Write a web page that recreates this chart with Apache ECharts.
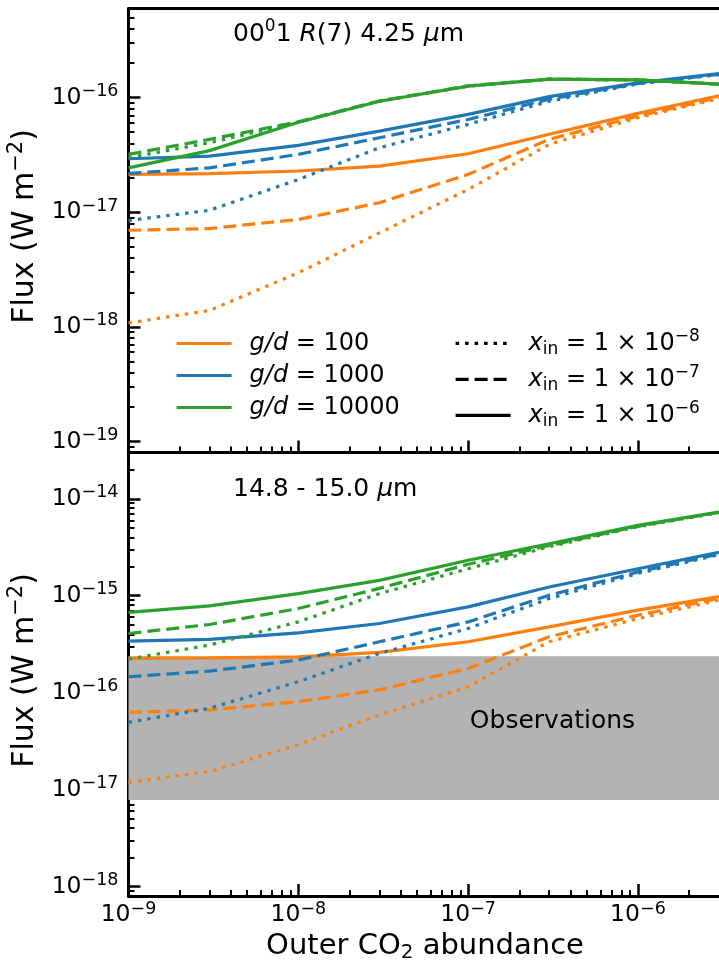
<!DOCTYPE html>
<html>
<head>
<meta charset="utf-8">
<script src="https://cdn.jsdelivr.net/npm/echarts@6/dist/echarts.min.js"></script>
<style>
    html, body { margin: 0; padding: 0; background: #fff; }
    #chart { width: 719px; height: 963px; }
</style>
</head>
<body>
<div id="chart"></div>
<script>
// outer CO2 abundance (x values, shared by both panels)
var abundance = [1e-9, 3e-9, 1e-8, 3e-8, 1e-7, 3e-7, 1e-6, 3e-6];

// top panel: 00^01 R(7) 4.25 um line flux (W m^-2)
var r7_gd100_in6 = [2.14e-17, 2.17e-17, 2.29e-17, 2.53e-17, 3.24e-17, 4.8e-17, 7.3e-17, 1.04e-16];
var r7_gd100_in7 = [6.96e-18, 7.2e-18, 8.65e-18, 1.21e-17, 2.14e-17, 4.33e-17, 6.9e-17, 1.0e-16];
var r7_gd100_in8 = [1.08e-18, 1.39e-18, 2.96e-18, 6.6e-18, 1.58e-17, 3.91e-17, 6.7e-17, 9.8e-17];
var r7_gd1000_in6 = [2.93e-17, 3.09e-17, 3.83e-17, 5.1e-17, 7.15e-17, 1.02e-16, 1.35e-16, 1.62e-16];
var r7_gd1000_in7 = [2.18e-17, 2.44e-17, 3.2e-17, 4.47e-17, 6.45e-17, 9.7e-17, 1.33e-16, 1.6e-16];
var r7_gd1000_in8 = [8.47e-18, 1.04e-17, 1.93e-17, 3.66e-17, 5.85e-17, 9.3e-17, 1.32e-16, 1.59e-16];
var r7_gd10000_in6 = [2.44e-17, 3.45e-17, 6.1e-17, 9.3e-17, 1.26e-16, 1.45e-16, 1.43e-16, 1.31e-16];
var r7_gd10000_in7 = [3.2e-17, 4.33e-17, 6.15e-17, 9.35e-17, 1.27e-16, 1.45e-16, 1.43e-16, 1.31e-16];
var r7_gd10000_in8 = [2.99e-17, 4.04e-17, 6.1e-17, 9.3e-17, 1.26e-16, 1.45e-16, 1.43e-16, 1.31e-16];

// bottom panel: 14.8 - 15.0 um flux (W m^-2)
var q_gd100_in6 = [2.26e-16, 2.29e-16, 2.34e-16, 2.6e-16, 3.35e-16, 4.78e-16, 7.1e-16, 9.8e-16];
var q_gd100_in7 = [6.28e-17, 6.63e-17, 8.07e-17, 1.07e-16, 1.78e-16, 3.77e-16, 6.3e-16, 9.4e-16];
var q_gd100_in8 = [1.19e-17, 1.54e-17, 2.9e-17, 5.9e-17, 1.15e-16, 3.35e-16, 5.8e-16, 9.0e-16];
var q_gd1000_in6 = [3.4e-16, 3.54e-16, 4.14e-16, 5.17e-16, 7.67e-16, 1.23e-15, 1.9e-15, 2.8e-15];
var q_gd1000_in7 = [1.46e-16, 1.67e-16, 2.17e-16, 3.35e-16, 5.37e-16, 1.01e-15, 1.76e-15, 2.7e-15];
var q_gd1000_in8 = [4.95e-17, 6.9e-17, 1.3e-16, 2.54e-16, 4.6e-16, 9.35e-16, 1.7e-15, 2.65e-15];
var q_gd10000_in6 = [6.72e-16, 7.85e-16, 1.05e-15, 1.44e-15, 2.32e-15, 3.44e-15, 5.31e-15, 7.3e-15];
var q_gd10000_in7 = [4.08e-16, 5.05e-16, 7.38e-16, 1.19e-15, 2.11e-15, 3.3e-15, 5.2e-15, 7.25e-15];
var q_gd10000_in8 = [2.22e-16, 3.1e-16, 5.37e-16, 1.05e-15, 1.9e-15, 3.2e-15, 5.15e-15, 7.2e-15];

// observed flux range (shaded band, bottom panel)
var obsBand = [7.8e-18, 2.38e-16];

// axis ranges and labelled decades
var xRange = [1e-9, 3e-6];
var topRange = [8e-20, 6e-16];
var bottomRange = [8e-19, 3e-14];
var xDecades = [-9, -8, -7, -6];
var topDecades = [-19, -18, -17, -16];
var bottomDecades = [-18, -17, -16, -15, -14];

var FONT = 'DejaVu Sans';
var ORANGE = '#ff7f0e', BLUE = '#1f77b4', GREEN = '#2ca02c';
var LW = 3.2;
var DASH = [13, 6], DOT = [3.5, 6];

var lg = Math.log10;

function minorTicks(lo, hi) {
    var out = [];
    for (var n = Math.floor(lo) - 1; n <= Math.ceil(hi); n++) {
        for (var k = 2; k <= 9; k++) {
            var v = n + lg(k);
            if (v > lo && v < hi) out.push(v);
        }
    }
    return out;
}

function powLabel(v) {
    return '{b|10}{s|\u2212' + Math.abs(Math.round(v)) + '}';
}

var labelRich = {
    b: {fontSize: 23.5, lineHeight: 30, fontFamily: FONT, color: '#000'},
    s: {fontSize: 17.5, lineHeight: 17, verticalAlign: 'top', fontFamily: FONT, color: '#000'}
};

var spine = {show: true, onZero: false, lineStyle: {color: '#000', width: 3}};

function majorAxis(grid, pos, lo, hi, ticks, labels) {
    return {
        type: 'value', gridIndex: grid, position: pos, min: lo, max: hi,
        axisLine: spine,
        axisTick: {show: true, inside: true, length: 12, customValues: ticks, lineStyle: {color: '#000', width: 2.5}},
        axisLabel: labels ? {show: true, customValues: ticks, formatter: powLabel, rich: labelRich,
            margin: pos === 'left' ? 10 : 4} : {show: false},
        splitLine: {show: false}
    };
}
function minorAxis(grid, pos, lo, hi) {
    return {
        type: 'value', gridIndex: grid, position: pos, min: lo, max: hi,
        axisLine: {show: false},
        axisTick: {show: true, inside: true, length: 6, customValues: minorTicks(lo, hi), lineStyle: {color: '#000', width: 2}},
        axisLabel: {show: false},
        splitLine: {show: false}
    };
}
function lineOnly(grid, pos, lo, hi) {
    return {
        type: 'value', gridIndex: grid, position: pos, min: lo, max: hi,
        axisLine: spine, axisTick: {show: false}, axisLabel: {show: false}, splitLine: {show: false}
    };
}

var x0 = lg(xRange[0]), x1 = lg(xRange[1]);

var xAxis = [
    majorAxis(0, 'bottom', x0, x1, xDecades, false),
    minorAxis(0, 'bottom', x0, x1),
    lineOnly(0, 'top', x0, x1),
    majorAxis(1, 'bottom', x0, x1, xDecades, true),
    minorAxis(1, 'bottom', x0, x1),
    lineOnly(1, 'top', x0, x1)
];
var yAxis = [
    majorAxis(0, 'left', lg(topRange[0]), lg(topRange[1]), topDecades, true),
    minorAxis(0, 'left', lg(topRange[0]), lg(topRange[1])),
    majorAxis(1, 'left', lg(bottomRange[0]), lg(bottomRange[1]), bottomDecades, true),
    minorAxis(1, 'left', lg(bottomRange[0]), lg(bottomRange[1]))
];

function curve(vals, color, dash, xi, yi) {
    return {
        type: 'line', xAxisIndex: xi, yAxisIndex: yi, z: 3,
        symbol: 'none', silent: true,
        data: abundance.map(function (a, i) { return [lg(a), lg(vals[i])]; }),
        lineStyle: {color: color, width: LW, type: dash, cap: 'butt'},
        itemStyle: {color: color}
    };
}

var series = [
    curve(r7_gd100_in6, ORANGE, 'solid', 0, 0),
    curve(r7_gd100_in7, ORANGE, DASH, 0, 0),
    curve(r7_gd100_in8, ORANGE, DOT, 0, 0),
    curve(r7_gd1000_in6, BLUE, 'solid', 0, 0),
    curve(r7_gd1000_in7, BLUE, DASH, 0, 0),
    curve(r7_gd1000_in8, BLUE, DOT, 0, 0),
    curve(r7_gd10000_in6, GREEN, 'solid', 0, 0),
    curve(r7_gd10000_in7, GREEN, DASH, 0, 0),
    curve(r7_gd10000_in8, GREEN, DOT, 0, 0),
    curve(q_gd100_in6, ORANGE, 'solid', 3, 2),
    curve(q_gd100_in7, ORANGE, DASH, 3, 2),
    curve(q_gd100_in8, ORANGE, DOT, 3, 2),
    curve(q_gd1000_in6, BLUE, 'solid', 3, 2),
    curve(q_gd1000_in7, BLUE, DASH, 3, 2),
    curve(q_gd1000_in8, BLUE, DOT, 3, 2),
    curve(q_gd10000_in6, GREEN, 'solid', 3, 2),
    curve(q_gd10000_in7, GREEN, DASH, 3, 2),
    curve(q_gd10000_in8, GREEN, DOT, 3, 2),
    {
        // observations band
        type: 'line', xAxisIndex: 3, yAxisIndex: 2, z: 1, data: [], symbol: 'none', silent: true,
        markArea: {
            silent: true,
            itemStyle: {color: '#b3b3b3', opacity: 1},
            data: [[{yAxis: lg(obsBand[0])}, {yAxis: lg(obsBand[1])}]]
        }
    }
];

// legend-only series
var legendItems = [
    ['gd100', ORANGE, 'solid'], ['gd1000', BLUE, 'solid'], ['gd10000', GREEN, 'solid'],
    ['xin8', '#000', DOT], ['xin7', '#000', DASH], ['xin6', '#000', 'solid']
];
legendItems.forEach(function (it) {
    series.push({
        name: it[0], type: 'line', xAxisIndex: 0, yAxisIndex: 0, data: [], symbol: 'none',
        lineStyle: {color: it[1], width: LW, type: it[2], cap: 'butt'}, itemStyle: {color: it[1]}
    });
});

var legendText = {
    gd100: '{it|g/d} = 100',
    gd1000: '{it|g/d} = 1000',
    gd10000: '{it|g/d} = 10000',
    xin8: '{it|x}{sub|in} = 1 \u00d7 10{sup|\u22128}',
    xin7: '{it|x}{sub|in} = 1 \u00d7 10{sup|\u22127}',
    xin6: '{it|x}{sub|in} = 1 \u00d7 10{sup|\u22126}'
};
var legendTextStyle = {
    fontFamily: FONT, fontSize: 24, lineHeight: 30, color: '#000', padding: [0, 0, 0, 13],
    rich: {
        it: {fontStyle: 'italic', fontSize: 24, lineHeight: 30, fontFamily: FONT, color: '#000'},
        sub: {fontSize: 17, lineHeight: 17, verticalAlign: 'bottom', fontFamily: FONT, color: '#000'},
        sup: {fontSize: 17, lineHeight: 17, verticalAlign: 'top', fontFamily: FONT, color: '#000'}
    }
};
function fmtLegend(name) { return legendText[name]; }

var option = {
    animation: false,
    backgroundColor: '#fff',
    textStyle: {fontFamily: FONT},
    grid: [
        {left: 128.5, top: 8.5, width: 594.2, height: 444},
        {left: 128.5, top: 452.5, width: 594.2, height: 443.5}
    ],
    xAxis: xAxis,
    yAxis: yAxis,
    legend: [
        {
            data: ['gd100', 'gd1000', 'gd10000'], left: 170, top: 323.5, orient: 'vertical',
            itemWidth: 55, itemHeight: 14, itemGap: 2, selectedMode: false,
            itemStyle: {opacity: 0}, lineStyle: {width: LW},
            formatter: fmtLegend, textStyle: legendTextStyle
        },
        {
            data: ['xin8', 'xin7', 'xin6'], left: 449, top: 323.3, orient: 'vertical',
            itemWidth: 55, itemHeight: 14, itemGap: 6, selectedMode: false,
            itemStyle: {opacity: 0}, lineStyle: {width: LW},
            formatter: fmtLegend, textStyle: legendTextStyle
        }
    ],
    graphic: [
        {
            type: 'text', x: 233, y: 34, silent: true,
            style: {
                text: '00{sup|0}1 {it|R}(7) 4.25 {it|\u03bc}m', fill: '#000', fontFamily: FONT, fontSize: 25,
                lineHeight: 32, align: 'left', verticalAlign: 'middle',
                rich: {
                    sup: {fontSize: 17, lineHeight: 17, verticalAlign: 'top', fontFamily: FONT},
                    it: {fontStyle: 'italic', fontSize: 25, lineHeight: 32, fontFamily: FONT}
                }
            }
        },
        {
            type: 'text', x: 233, y: 489.5, silent: true,
            style: {
                text: '14.8 - 15.0 {it|\u03bc}m', fill: '#000', fontFamily: FONT, fontSize: 25,
                lineHeight: 32, align: 'left', verticalAlign: 'middle',
                rich: {it: {fontStyle: 'italic', fontSize: 25, lineHeight: 32, fontFamily: FONT}}
            }
        },
        {
            type: 'text', x: 552.5, y: 721, silent: true, z: 10,
            style: {text: 'Observations', fill: '#000', fontFamily: FONT, fontSize: 25, align: 'center', verticalAlign: 'middle'}
        },
        {
            type: 'text', x: 25, y: 226.5, rotation: Math.PI / 2, silent: true,
            style: {
                text: 'Flux (W m{sup|\u22122})', fill: '#000', fontFamily: FONT, fontSize: 30,
                lineHeight: 38, align: 'center', verticalAlign: 'middle',
                rich: {sup: {fontSize: 21, lineHeight: 21, verticalAlign: 'top', fontFamily: FONT}}
            }
        },
        {
            type: 'text', x: 25, y: 670.5, rotation: Math.PI / 2, silent: true,
            style: {
                text: 'Flux (W m{sup|\u22122})', fill: '#000', fontFamily: FONT, fontSize: 30,
                lineHeight: 38, align: 'center', verticalAlign: 'middle',
                rich: {sup: {fontSize: 21, lineHeight: 21, verticalAlign: 'top', fontFamily: FONT}}
            }
        },
        {
            type: 'text', x: 425, y: 946, silent: true,
            style: {
                text: 'Outer CO{sub|2} abundance', fill: '#000', fontFamily: FONT, fontSize: 29,
                lineHeight: 34, align: 'center', verticalAlign: 'middle',
                rich: {sub: {fontSize: 20, lineHeight: 20, verticalAlign: 'bottom', fontFamily: FONT}}
            }
        }
    ],
    series: series
};

var chart = echarts.init(document.getElementById('chart'), null, {renderer: 'canvas'});
chart.setOption(option);
</script>
</body>
</html>
